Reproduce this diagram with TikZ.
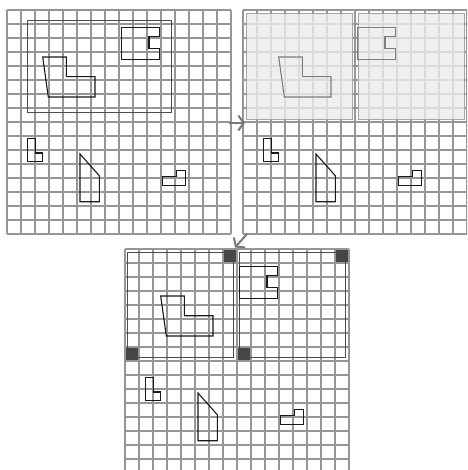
\documentclass[tikz,border=0pt]{standalone}
\usetikzlibrary{arrows.meta}
\definecolor{gridgray}{RGB}{150,150,150}
\definecolor{shapeink}{RGB}{25,25,25}
\definecolor{framegray}{RGB}{75,75,75}
\definecolor{panelfill}{RGB}{235,235,235}
\definecolor{paneledge}{RGB}{165,165,165}
\definecolor{fadedink}{RGB}{125,125,125}
\definecolor{arrowgray}{RGB}{120,120,120}
\definecolor{markfill}{RGB}{70,70,70}

\tikzset{
  gridline/.style={draw=gridgray, line width=1.1pt},
  outline/.style={draw=shapeink, line width=1.1pt},
  faded/.style={draw=fadedink, line width=1.1pt},
  frame/.style={draw=framegray, line width=0.9pt},
  panel/.style={draw=paneledge, fill=panelfill, fill opacity=0.8, line width=1pt},
  marker/.style={fill=markfill, draw=none},
  flow/.style={draw=arrowgray, line width=2pt, -{Straight Barb[length=5.5pt,width=15pt]}}
}

% 16 x 16 cells of 14 px
\newcommand{\cellgrid}{%
  \foreach \k in {0,...,16} {
    \draw[gridline] (14*\k,0) -- (14*\k,224);
    \draw[gridline] (0,14*\k) -- (224,14*\k);
  }}
% the two parts in the upper half
\newcommand{\upperparts}[1]{%
  \draw[#1] (35.7,47) -- (59.3,47) -- (59.3,66.7) -- (88,66.7) -- (88,87) -- (41.3,87) -- cycle;
  \draw[#1] (114.3,17.3) -- (152.7,17.3) -- (152.7,26.7) -- (142,26.7) -- (142,38.7) -- (152.7,38.7) -- (152.7,49.3) -- (114.3,49.3) -- cycle;}
% the three parts in the lower half
\newcommand{\lowerparts}{%
  \draw[outline] (20.7,128.3) -- (28.7,128.3) -- (28.7,143) -- (35.7,143) -- (35.7,151.3) -- (20.7,151.3) -- cycle;
  \draw[outline] (73,144) -- (92.3,165.7) -- (92.3,191.7) -- (73,191.7) -- cycle;
  \draw[outline] (155.3,166.3) -- (169.7,166.3) -- (169.7,160.3) -- (178.3,160.3) -- (178.3,175.3) -- (155.3,175.3) -- cycle;}

\begin{document}
\begin{tikzpicture}[x=1pt, y=-1pt]
  \useasboundingbox (0,0) rectangle (467,470);
  \clip (0,0) rectangle (467,470);

  % Input sheet
  \begin{scope}[shift={(7,10)}]
    \cellgrid
    \draw[frame] (20.7,10.3) rectangle (164.7,102.7);
    \upperparts{outline}
    \lowerparts
  \end{scope}

  % Split into two panels
  \begin{scope}[shift={(243,10)}]
    \cellgrid
    \draw[panel] (3.8,3.3) rectangle (109.5,109.3);
    \draw[panel] (115.3,3.3) rectangle (221,109.3);
    \upperparts{faded}
    \lowerparts
  \end{scope}

  % Panels with corner marks
  \begin{scope}[shift={(125,249)}]
    \cellgrid
    \draw[frame] (2.7,3.3) rectangle (108.3,108.7);
    \draw[frame] (114.3,3.3) rectangle (220,108.7);
    \fill[marker] (99,1) rectangle (111,13);
    \fill[marker] (1,99) rectangle (13,111);
    \fill[marker] (113,99) rectangle (125,111);
    \fill[marker] (211,1) rectangle (223,13);
    \upperparts{outline}
    \lowerparts
  \end{scope}

  % Arrows
  \coordinate (splitout) at (229,123);
  \coordinate (splitin) at (245,123);
  \coordinate (markout) at (247,234);
  \coordinate (markin) at (235,247.5);
  \draw[flow] (splitout) -- (splitin);
  \draw[flow] (markout) -- (markin);
\end{tikzpicture}
\end{document}
